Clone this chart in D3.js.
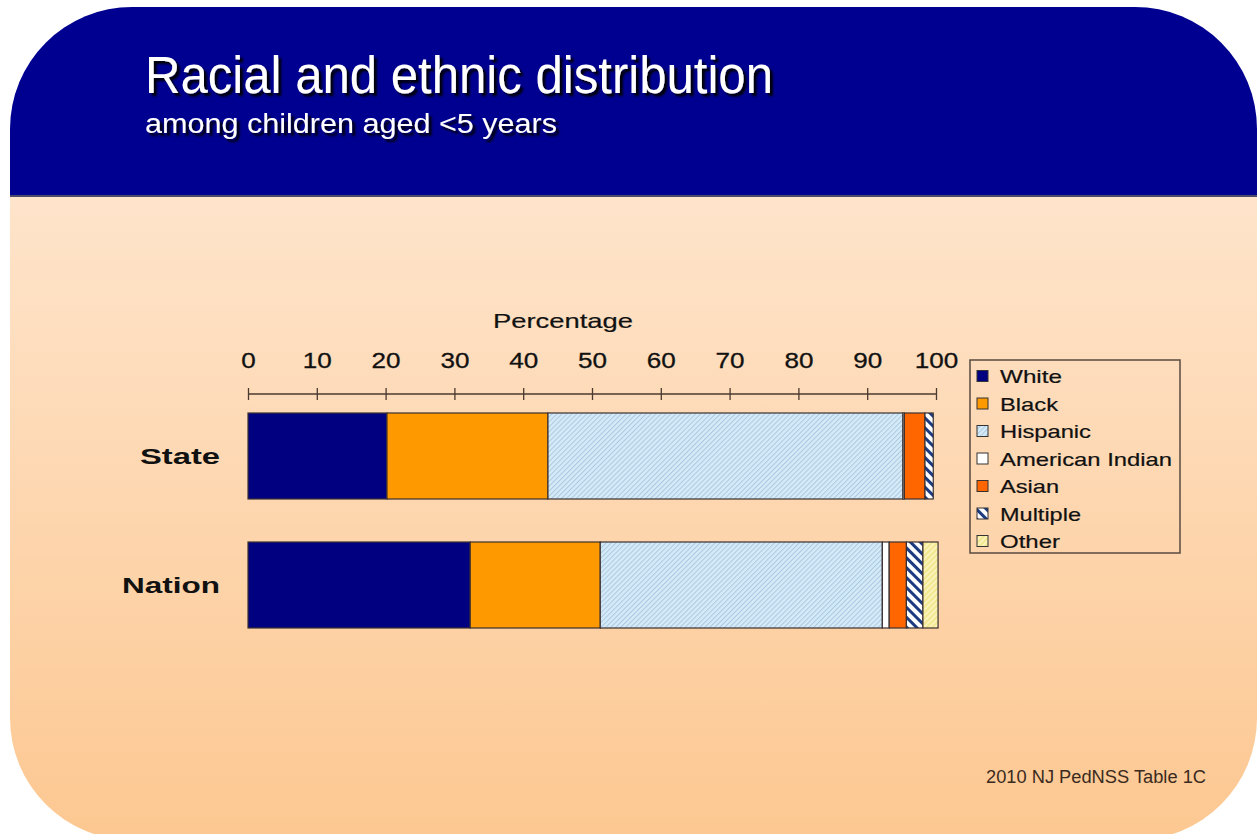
<!DOCTYPE html>
<html>
<head>
<meta charset="utf-8">
<script src="https://cdn.jsdelivr.net/npm/d3@7"></script>
<style>
  html, body { margin: 0; padding: 0; background: #ffffff; }
  svg { display: block; }
  text { font-family: "Liberation Sans", Arial, sans-serif; }
</style>
</head>
<body>
<svg id="chart" width="1259" height="834"></svg>
<script>
// ---- data ----
const categories = ["State", "Nation"];
const groups = ["White", "Black", "Hispanic", "American Indian", "Asian", "Multiple", "Other"];
const stateValues  = [20.2, 23.4, 51.6, 0.2, 3.0, 1.2, 0.0];
const nationValues = [32.3, 18.9, 41.0, 1.0, 2.5, 2.4, 2.2];
const tickValues = [0, 10, 20, 30, 40, 50, 60, 70, 80, 90, 100];
const titleText = "Racial and ethnic distribution";
const subtitleText = "among children aged <5 years";
const axisTitle = "Percentage";
const sourceText = "2010 NJ PedNSS Table 1C";

const svg = d3.select("#chart");
const W = 1259, H = 834;

// ---- patterns, gradient, shadow ----
const defs = svg.append("defs");

const bg = defs.append("linearGradient").attr("id", "peach")
  .attr("x1", 0).attr("y1", 0).attr("x2", 0).attr("y2", 1);
bg.append("stop").attr("offset", "0%").attr("stop-color", "#fee4cb");
bg.append("stop").attr("offset", "100%").attr("stop-color", "#fcbf80");

const shadow = defs.append("filter").attr("id", "titleShadow")
  .attr("x", "-5%").attr("y", "-20%").attr("width", "115%").attr("height", "160%");
shadow.append("feDropShadow").attr("dx", 3).attr("dy", 3).attr("stdDeviation", 0.8)
  .attr("flood-color", "#000").attr("flood-opacity", 0.95);

function hatch(id, base, line, size, width, dir) {
  const p = defs.append("pattern").attr("id", id)
    .attr("patternUnits", "userSpaceOnUse")
    .attr("width", size).attr("height", size)
    .attr("patternTransform", `rotate(${dir})`);
  p.append("rect").attr("width", size).attr("height", size).attr("fill", base);
  p.append("rect").attr("width", width).attr("height", size).attr("fill", line);
}
hatch("pHisp", "#d6eaf7", "#a9c9e2", 3.5, 1, 45);
hatch("pMult", "#ffffff", "#1c3a80", 7, 3, -45);
hatch("pOther", "#f3e890", "#fbf6c8", 4, 1.5, 45);

const fills = {
  "White": "#000080",
  "Black": "#ff9900",
  "Hispanic": "url(#pHisp)",
  "American Indian": "#ffffff",
  "Asian": "#ff6600",
  "Multiple": "url(#pMult)",
  "Other": "url(#pOther)"
};

// ---- slide background ----
const L = 10, R = 1257, T = 7, B = 840, r = 122;
const shape = `M${L},${T + r} A${r},${r} 0 0 1 ${L + r},${T} L${R - r},${T} A${r},${r} 0 0 1 ${R},${T + r}
  L${R},${B - r} A${r},${r} 0 0 1 ${R - r},${B} L${L + r},${B} A${r},${r} 0 0 1 ${L},${B - r} Z`;
defs.append("clipPath").attr("id", "slideClip").append("path").attr("d", shape);

const slide = svg.append("g").attr("clip-path", "url(#slideClip)");
slide.append("rect").attr("x", 0).attr("y", 196).attr("width", W).attr("height", H)
  .attr("fill", "url(#peach)");
slide.append("rect").attr("x", 0).attr("y", 0).attr("width", W).attr("height", 196)
  .attr("fill", "#000090");
slide.append("rect").attr("x", 0).attr("y", 195).attr("width", W).attr("height", 2)
  .attr("fill", "#4a4a6a");

// ---- titles ----
function shadowText(x, y, txt, size, len) {
  svg.append("text").attr("x", x).attr("y", y).text(txt)
    .attr("font-size", size).attr("fill", "#ffffff")
    .attr("filter", "url(#titleShadow)")
    .attr("textLength", len).attr("lengthAdjust", "spacingAndGlyphs");
}
shadowText(145, 93, titleText, 51, 628);
shadowText(145, 133, subtitleText, 27, 412);

// ---- scales ----
const x = d3.scaleLinear().domain([0, 100]).range([248, 936]);
const y = d3.scaleBand().domain(categories).range([380.75, 660.25])
  .paddingInner(1 / 3).paddingOuter(0.25);

// ---- axis on top ----
const axisY = 394;
const axis = d3.axisTop(x).tickValues(tickValues).tickSize(6).tickPadding(20)
  .tickFormat(d3.format("d"));
const gAxis = svg.append("g").attr("transform", `translate(0,${axisY})`).call(axis);
gAxis.select(".domain").attr("stroke", "#4a3a30").attr("stroke-width", 1.3)
  .attr("d", `M${x(0)},0H${x(100)}`);
gAxis.selectAll(".tick line").attr("stroke", "#4a3a30").attr("stroke-width", 1.3)
  .attr("y1", 6).attr("y2", -6);
gAxis.selectAll(".tick text")
  .attr("font-size", 22).attr("fill", "#111").attr("stroke", "#111").attr("stroke-width", 0.3)
  .attr("font-family", "Liberation Sans, Arial, sans-serif")
  .attr("textLength", d => String(d).length * 14.5)
  .attr("lengthAdjust", "spacingAndGlyphs");

svg.append("text").attr("x", 563).attr("y", 328).attr("text-anchor", "middle")
  .attr("font-size", 21).attr("fill", "#111").attr("stroke", "#111").attr("stroke-width", 0.2)
  .text(axisTitle)
  .attr("textLength", 140).attr("lengthAdjust", "spacingAndGlyphs");

// ---- stacked bars ----
const rows = categories.map((c, i) => {
  const vals = i === 0 ? stateValues : nationValues;
  const row = { category: c };
  groups.forEach((g, j) => row[g] = vals[j]);
  return row;
});
const series = d3.stack().keys(groups)(rows);

const gBars = svg.append("g");
series.forEach(s => {
  gBars.selectAll(null).data(s.filter(d => d[1] - d[0] > 0)).enter().append("rect")
    .attr("x", d => x(d[0]))
    .attr("y", d => y(d.data.category))
    .attr("width", d => x(d[1]) - x(d[0]))
    .attr("height", y.bandwidth())
    .attr("fill", fills[s.key])
    .attr("stroke", "#3b3030")
    .attr("stroke-width", 1.2);
});

// ---- category labels ----
svg.selectAll(".cat").data(categories).enter().append("text")
  .attr("class", "cat")
  .attr("x", 220).attr("y", d => y(d) + y.bandwidth() / 2 + 8)
  .attr("text-anchor", "end").attr("font-size", 22).attr("font-weight", "bold")
  .attr("fill", "#111").text(d => d)
  .attr("textLength", d => d === "State" ? 80 : 98)
  .attr("lengthAdjust", "spacingAndGlyphs");

// ---- legend ----
const lg = svg.append("g");
lg.append("rect").attr("x", 970).attr("y", 360).attr("width", 210).attr("height", 193)
  .attr("fill", "none").attr("stroke", "#5a4a40").attr("stroke-width", 1.5);
const legendWidths = { "White": 62, "Black": 58, "Hispanic": 91, "American Indian": 172,
  "Asian": 59, "Multiple": 81, "Other": 60 };
groups.forEach((g, i) => {
  const cy = 376 + i * 27.5;
  lg.append("rect").attr("x", 977).attr("y", cy - 5.5).attr("width", 11).attr("height", 11)
    .attr("fill", fills[g]).attr("stroke", "#333").attr("stroke-width", 1);
  lg.append("text").attr("x", 1000).attr("y", cy + 7).attr("font-size", 19)
    .attr("fill", "#111").attr("stroke", "#111").attr("stroke-width", 0.2).text(g)
    .attr("textLength", legendWidths[g]).attr("lengthAdjust", "spacingAndGlyphs");
});

// ---- source note ----
svg.append("text").attr("x", 986).attr("y", 783).attr("font-size", 18)
  .attr("fill", "#3a2a20").text(sourceText)
  .attr("textLength", 220).attr("lengthAdjust", "spacingAndGlyphs");
</script>
</body>
</html>
